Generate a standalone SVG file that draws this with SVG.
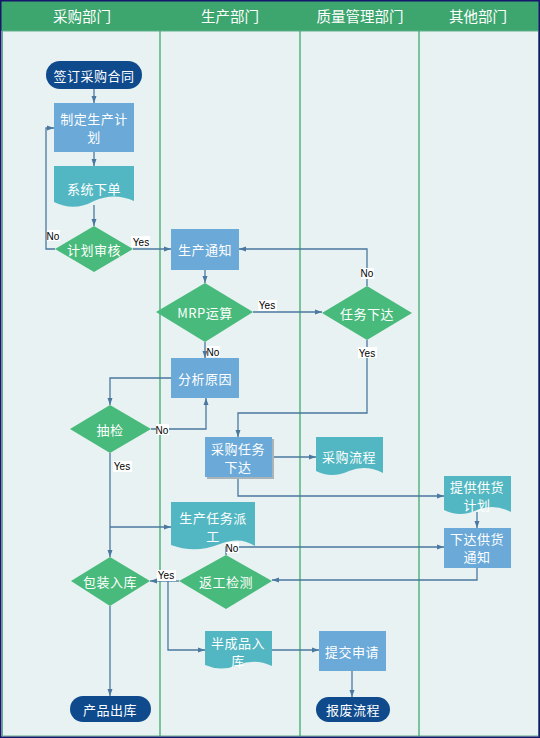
<svg xmlns="http://www.w3.org/2000/svg" width="540" height="738" viewBox="0 0 540 738">
<defs>
<marker id="ah" markerWidth="8" markerHeight="6" refX="7" refY="3" orient="auto" markerUnits="userSpaceOnUse">
<path d="M0,0.5 L7,3 L0,5.5 Z" fill="#4A78A0"/>
</marker>
<style>
.t{font-family:"Noto Sans CJK SC","Liberation Sans",sans-serif;font-size:13px;fill:#ffffff;text-anchor:middle;dominant-baseline:central;letter-spacing:0.5px}
.h{font-family:"Noto Sans CJK SC","Liberation Sans",sans-serif;font-size:14.5px;fill:#ffffff;text-anchor:middle;dominant-baseline:central}
.rect{fill:#6AA9D8}
.doc{fill:#52B7C2}
.dia{fill:#48BA7B}
.term{fill:#0E4A8C}
.c{fill:none;stroke:#4A78A0;stroke-width:1.3}
.ca{fill:none;stroke:#4A78A0;stroke-width:1.3;marker-end:url(#ah)}
.lb{fill:#ffffff}
.lt{font-family:"Liberation Sans","DejaVu Sans",sans-serif;font-size:10px;fill:#000000;text-anchor:middle;dominant-baseline:central}
.lane{stroke:#3DAA6A;stroke-width:1.3}
</style>
</defs>

<!-- background -->
<rect x="0" y="0" width="540" height="738" fill="#E8F2F2"/>
<rect x="0" y="0" width="540" height="31" fill="#3DA56E"/>
<rect x="2.5" y="31" width="536" height="705" fill="#E8F2F2" stroke="#5FB08A" stroke-width="1"/>
<line class="lane" x1="160" y1="31" x2="160" y2="736"/>
<line class="lane" x1="300" y1="31" x2="300" y2="736"/>
<line class="lane" x1="419" y1="31" x2="419" y2="736"/>
<rect x="0.75" y="0.75" width="538.5" height="736.5" fill="none" stroke="#16166A" stroke-width="1.5"/>

<g id="headers">
<text class="h" x="82" y="15">采购部门</text>
<text class="h" x="230" y="15">生产部门</text>
<text class="h" x="360" y="15">质量管理部门</text>
<text class="h" x="478" y="15">其他部门</text>
</g>

<g id="connectors">
<path class="ca" d="M94,89 V103"/>
<path class="ca" d="M94,152 V166"/>
<path class="ca" d="M94,205 V226"/>
<path class="ca" d="M133,249 H171"/>
<path class="ca" d="M55,249 H46 V128 H54"/>
<path class="ca" d="M205,270 V283"/>
<path class="ca" d="M253,312 H322"/>
<path class="ca" d="M367,286 V249 H239"/>
<path class="ca" d="M367,340 V413 H238 V437"/>
<path class="ca" d="M205,342 V358"/>
<path class="ca" d="M171,378 H110 V405"/>
<path class="ca" d="M151,429 H206 V398"/>
<path class="ca" d="M110,453 V557"/>
<path class="ca" d="M110,527 H171"/>
<path class="ca" d="M272,457 H316"/>
<path class="ca" d="M238,477 V496 H444"/>
<path class="ca" d="M477,512 V528"/>
<path class="ca" d="M477,568 V580 H272"/>
<path class="ca" d="M226,555 V547 H444"/>
<path class="ca" d="M179,581 H150"/>
<path class="ca" d="M168,581 V650 H205"/>
<path class="ca" d="M272,650 H319"/>
<path class="ca" d="M352,671 V697"/>
<path class="ca" d="M110,606 V696"/>
</g>

<g id="labels">
<rect class="lb" x="131" y="236" width="19" height="11"/><text class="lt" x="141" y="242">Yes</text>
<rect class="lb" x="47" y="230" width="13" height="11"/><text class="lt" x="53" y="236">No</text>
<rect class="lb" x="258" y="300" width="19" height="11"/><text class="lt" x="267" y="305">Yes</text>
<rect class="lb" x="361" y="268" width="13" height="11"/><text class="lt" x="367" y="273">No</text>
<rect class="lb" x="358" y="347" width="19" height="11"/><text class="lt" x="367" y="353">Yes</text>
<rect class="lb" x="207" y="346" width="13" height="11"/><text class="lt" x="213" y="352">No</text>
<rect class="lb" x="156" y="424" width="13" height="11"/><text class="lt" x="162" y="430">No</text>
<rect class="lb" x="113" y="461" width="19" height="11"/><text class="lt" x="122" y="466">Yes</text>
<rect class="lb" x="226" y="542" width="13" height="11"/><text class="lt" x="232" y="548">No</text>
<rect class="lb" x="157" y="570" width="19" height="11"/><text class="lt" x="166" y="575">Yes</text>
</g>

<g id="n1"><rect class="term" x="46" y="61" width="96" height="28" rx="14"/><text class="t" x="94" y="75">签订采购合同</text></g>
<g id="n2"><rect class="rect" x="54" y="103" width="80" height="49"/><text class="t" x="94" y="118">制定生产计</text><text class="t" x="94" y="136">划</text></g>
<g id="n3"><path class="doc" d="M54,166 H134 V201 Q114,192 94,201 Q74,212 54,202 Z"/><text class="t" x="94" y="188">系统下单</text></g>
<g id="n4"><path class="dia" d="M94,226 L133,249 L94,272 L55,249 Z"/><text class="t" x="94" y="249">计划审核</text></g>
<g id="n5"><rect class="rect" x="171" y="229" width="68" height="41"/><text class="t" x="205" y="249">生产通知</text></g>
<g id="n6"><path class="dia" d="M205,283 L253,312 L205,342 L156,312 Z"/><text class="t" x="205" y="312">MRP运算</text></g>
<g id="n7"><path class="dia" d="M367,286 L412,313 L367,340 L322,313 Z"/><text class="t" x="367" y="313">任务下达</text></g>
<g id="n8"><rect class="rect" x="171" y="358" width="68" height="40"/><text class="t" x="205" y="378">分析原因</text></g>
<g id="n9"><path class="dia" d="M110,405 L151,429 L110,453 L70,429 Z"/><text class="t" x="110" y="429">抽检</text></g>
<g id="n10"><rect x="207" y="439" width="67" height="40" fill="#A8B4B8"/><rect class="rect" x="205" y="437" width="67" height="40"/><text class="t" x="238" y="448">采购任务</text><text class="t" x="238" y="466">下达</text></g>
<g id="n11"><path class="doc" d="M316,437 H383 V473 Q366,464 349,471 Q332,479 316,471 Z"/><text class="t" x="349" y="456">采购流程</text></g>
<g id="n12"><path class="doc" d="M444,476 H511 V512 Q494,503 477,510 Q460,518 444,510 Z"/><text class="t" x="477" y="486">提供供货</text><text class="t" x="477" y="504">计划</text></g>
<g id="n13"><rect class="rect" x="444" y="528" width="67" height="40"/><text class="t" x="477" y="538">下达供货</text><text class="t" x="477" y="556">通知</text></g>
<g id="n14"><path class="doc" d="M171,502 H255 V546 Q240,536 220,544 Q195,554 171,545 Z"/><text class="t" x="213" y="517">生产任务派</text><text class="t" x="213" y="535">工</text></g>
<g id="n15"><path class="dia" d="M110,557 L150,581 L110,606 L71,581 Z"/><text class="t" x="110" y="581">包装入库</text></g>
<g id="n16"><path class="dia" d="M226,555 L272,581 L226,609 L179,581 Z"/><text class="t" x="226" y="581">返工检测</text></g>
<g id="n17"><path class="doc" d="M205,631 H272 V666 Q255,658 238,665 Q221,672 205,665 Z"/><text class="t" x="238" y="642">半成品入</text><text class="t" x="238" y="660">库</text></g>
<g id="n18"><rect class="rect" x="319" y="631" width="67" height="40"/><text class="t" x="352" y="651">提交申请</text></g>
<g id="n19"><rect class="term" x="316" y="697" width="74" height="25" rx="12.5"/><text class="t" x="353" y="709">报废流程</text></g>
<g id="n20"><rect class="term" x="70" y="696" width="81" height="26" rx="13"/><text class="t" x="110" y="709">产品出库</text></g>
</svg>
